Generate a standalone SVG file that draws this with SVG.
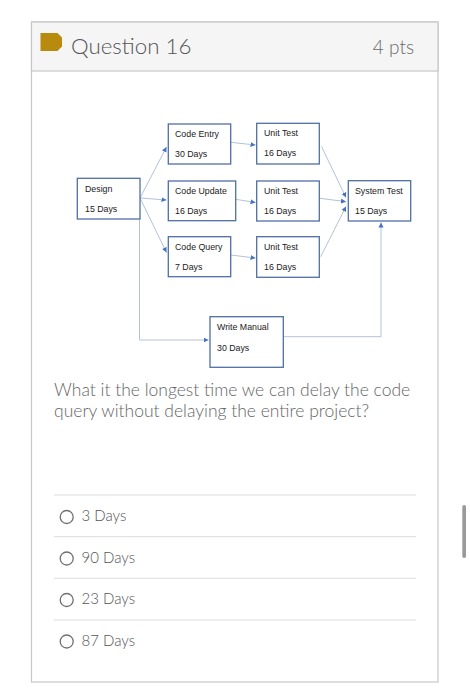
<svg xmlns="http://www.w3.org/2000/svg" width="470" height="700" viewBox="0 0 470 700">
<style>
.card{fill:#fff;stroke:#c7c7c7;stroke-width:1.2}
.hdr{fill:#f5f5f5;stroke:#c7c7c7;stroke-width:1.2}
.box{fill:#fff;stroke:#4f6fa3;stroke-width:1.3}
.bt{font-family:"Liberation Sans",Arial,sans-serif;font-size:8.8px;fill:#1a1a1a}
.conn{fill:none;stroke:#b3c2d9;stroke-width:1}
.lato{font-family:Lato,"Open Sans",sans-serif;font-weight:300}
.sep{stroke:#dcdcdc;stroke-width:1}
.radio{fill:#fff;stroke:#707070;stroke-width:1.3}
.opt{font-family:Lato,"Open Sans",sans-serif;font-weight:300;font-size:15px;fill:#555}
</style>
<defs>
<marker id="ah" markerWidth="6" markerHeight="6" refX="5" refY="3" orient="auto" markerUnits="userSpaceOnUse">
<path d="M0,0.5 L5,3 L0,5.5 Z" fill="#4472c4"/>
</marker>
</defs>
<rect width="470" height="700" fill="#fff"/>
<g id="card">
<rect class="card" x="31.5" y="22" width="406.5" height="660"/>
<rect class="hdr" x="31.5" y="22" width="406.5" height="49"/>
<path d="M40.5,33 H57.5 L62,37.5 V46.5 L57.5,51 H40.5 Z" fill="#b88a0e"/>
<text class="lato" x="71" y="54" font-size="22.3" fill="#555">Question 16</text>
<text class="lato" x="414" y="54" font-size="19" fill="#6a6a6a" text-anchor="end">4 pts</text>
</g>
<g id="connectors">
<path class="conn" d="M140,198 L166.5,147" marker-end="url(#ah)"/>
<path class="conn" d="M140,198 L166.5,200" marker-end="url(#ah)"/>
<path class="conn" d="M140,198 L166.5,252.5" marker-end="url(#ah)"/>
<path class="conn" d="M139.5,219 V340 H208.5" marker-end="url(#ah)"/>
<path class="conn" d="M230.7,142.3 L255.5,145" marker-end="url(#ah)"/>
<path class="conn" d="M235.7,199.3 L255.5,202.5" marker-end="url(#ah)"/>
<path class="conn" d="M230.7,255 L255.5,258" marker-end="url(#ah)"/>
<path class="conn" d="M321.5,146.5 L346,197.5" marker-end="url(#ah)"/>
<path class="conn" d="M320,198.3 L346,201.7" marker-end="url(#ah)"/>
<path class="conn" d="M320.7,256.7 L346,206.5" marker-end="url(#ah)"/>
<path class="conn" d="M283.3,336.7 H381 V222.5" marker-end="url(#ah)"/>
</g>
<g id="design"><rect class="box" x="77.3" y="178.3" width="62.7" height="40.7"/><text class="bt" x="85" y="191.5">Design</text><text class="bt" x="85" y="211.5">15 Days</text></g>
<g id="code-entry"><rect class="box" x="168.3" y="124" width="62.4" height="40"/><text class="bt" x="175" y="136.5">Code Entry</text><text class="bt" x="175" y="156.5">30 Days</text></g>
<g id="code-update"><rect class="box" x="168.3" y="181" width="67.4" height="39.7"/><text class="bt" x="175" y="193.5">Code Update</text><text class="bt" x="175" y="213.5">16 Days</text></g>
<g id="code-query"><rect class="box" x="168.3" y="236.7" width="62.4" height="40"/><text class="bt" x="175" y="249.5">Code Query</text><text class="bt" x="175" y="269.5">7 Days</text></g>
<g id="unit-test-1"><rect class="box" x="256.7" y="123.3" width="62.6" height="40.7"/><text class="bt" x="264" y="136">Unit Test</text><text class="bt" x="264" y="156">16 Days</text></g>
<g id="unit-test-2"><rect class="box" x="256.7" y="181" width="62.6" height="40"/><text class="bt" x="264" y="194">Unit Test</text><text class="bt" x="264" y="214">16 Days</text></g>
<g id="unit-test-3"><rect class="box" x="256.7" y="236.7" width="62.6" height="40.6"/><text class="bt" x="264" y="250">Unit Test</text><text class="bt" x="264" y="270">16 Days</text></g>
<g id="system-test"><rect class="box" x="348.3" y="180.7" width="62.4" height="40.3"/><text class="bt" x="355" y="193.5">System Test</text><text class="bt" x="355" y="213.5">15 Days</text></g>
<g id="write-manual"><rect class="box" x="210" y="316.7" width="73.3" height="50.6"/><text class="bt" x="217" y="330">Write Manual</text><text class="bt" x="217" y="350.5">30 Days</text></g>
<g id="question">
<text class="lato" x="54" y="396" font-size="17.5" fill="#666">What it the longest time we can delay the code</text>
<text class="lato" x="54" y="416.5" font-size="17.5" fill="#666">query without delaying the entire project?</text>
</g>
<g id="options">
<line class="sep" x1="54" y1="495" x2="416" y2="495"/>
<line class="sep" x1="54" y1="536.7" x2="416" y2="536.7"/>
<line class="sep" x1="54" y1="578.3" x2="416" y2="578.3"/>
<line class="sep" x1="54" y1="620" x2="416" y2="620"/>
<circle class="radio" cx="66.7" cy="517" r="6.5"/><text class="opt" x="81.5" y="521">3 Days</text>
<circle class="radio" cx="66.7" cy="558.5" r="6.5"/><text class="opt" x="81.5" y="562.5">90 Days</text>
<circle class="radio" cx="66.7" cy="600" r="6.5"/><text class="opt" x="81.5" y="604">23 Days</text>
<circle class="radio" cx="66.7" cy="641.5" r="6.5"/><text class="opt" x="81.5" y="645.5">87 Days</text>
</g>
<rect id="scrollbar" x="462.3" y="505" width="3.7" height="53" rx="1.8" fill="#9a9a9a"/>
</svg>
